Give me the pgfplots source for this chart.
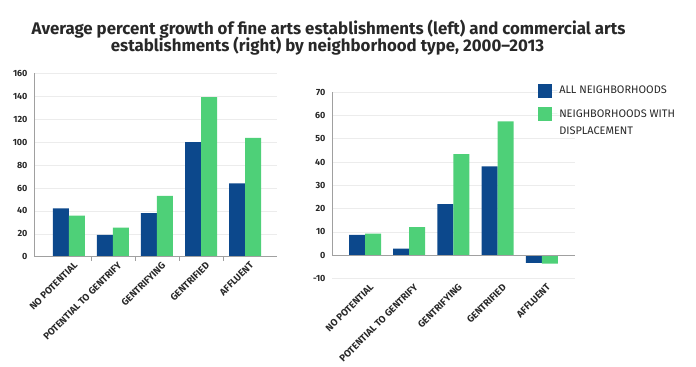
\documentclass[border=0pt]{standalone}
\usepackage{pgfplots}
\pgfplotsset{compat=1.18}
\usepackage{fontspec}
\setmainfont{Fira Sans}
\definecolor{cblue}{RGB}{12,72,140}
\definecolor{cgreen}{RGB}{78,208,120}
\definecolor{gridc}{RGB}{236,236,236}
\definecolor{txt}{RGB}{40,40,40}
\definecolor{axc}{RGB}{160,160,160}

\pgfplotsset{
  mybar/.style={
    scale only axis,
    ybar=0pt, bar width=16bp,
    axis x line*=bottom, axis y line*=left,
    axis line style={draw=none},
    xtick={0,1,2,3,4},
    xticklabels={NO POTENTIAL, POTENTIAL TO GENTRIFY, GENTRIFYING, GENTRIFIED, AFFLUENT},
    xticklabel style={rotate=45, anchor=north east, font=\bfseries\fontsize{9.7}{11}\selectfont, text=txt, inner sep=1pt, xshift=1bp, yshift=-5bp},
    yticklabel style={font=\bfseries\fontsize{9}{10}\selectfont, text=txt, xshift=-3bp},
    /pgf/number format/assume math mode=true,
    major tick length=0pt,
    ymajorgrids, grid style={gridc, line width=0.6pt},
    tick style={draw=none},
    legend image code/.code={\path (0bp,0bp) -- (19bp,0bp); \fill[#1, draw=none] (0bp,-7bp) rectangle (14bp,7bp);},
  }
}

\begin{document}
\begin{tikzpicture}
\path[use as bounding box] (0,0) rectangle (696bp,367bp);

\node[anchor=base, font=\bfseries\fontsize{16.9}{16}\selectfont, text=txt, inner sep=0pt] at (328.5bp,332.5bp)
  {Average percent growth of fine arts establishments (left) and commercial arts};
\node[anchor=base, font=\bfseries\fontsize{16.9}{16}\selectfont, text=txt, inner sep=0pt] at (327.5bp,315.5bp)
  {establishments (right) by neighborhood type, 2000–2013};

\begin{axis}[mybar,
  at={(34bp,110.3bp)}, anchor=south west,
  width=243bp, height=183bp,
  xmin=-0.795, xmax=4.727, ymin=0, ymax=160,
  ytick={0,20,...,160},
  extra x ticks={0.5,1.5,2.5,3.5}, extra x tick labels={},
  extra x tick style={grid=none, major tick length=4bp, tick align=outside, tick style={draw=axc, line width=0.6pt}},
]
\addplot[fill=cblue, draw=none] coordinates {(0,42.3) (1,19.0) (2,38.0) (3,100.1) (4,64.2)};
\addplot[fill=cgreen, draw=none] coordinates {(0,35.9) (1,25.4) (2,53.1) (3,139.6) (4,103.9)};
\draw[axc, line width=0.6pt] (rel axis cs:0,0) -- (rel axis cs:0,1.01);
\draw[axc, line width=0.6pt] (rel axis cs:0,0) -- (rel axis cs:1,0);
\end{axis}

\begin{axis}[mybar,
  at={(332bp,88.4bp)}, anchor=south west,
  width=243bp, height=186.6bp,
  xmin=-0.747, xmax=4.75, ymin=-10, ymax=70,
  ytick={-10,0,...,70},
  legend style={draw=none, fill=none, at={(0.848,1.045)}, anchor=north west, inner sep=0pt,
    font=\fontsize{11}{17}\selectfont, text=txt, cells={anchor=west, align=left}, row sep=9bp},
]
\addplot[fill=cblue, draw=none] coordinates {(0,8.7) (1,2.9) (2,21.9) (3,38.1) (4,-3.3)};
\addlegendentry{ALL NEIGHBORHOODS}
\addplot[fill=cgreen, draw=none, legend image post style={yshift=9bp}] coordinates {(0,9.3) (1,12.1) (2,43.4) (3,57.4) (4,-3.6)};
\addlegendentry{NEIGHBORHOODS WITH\\DISPLACEMENT}
\draw[axc, line width=0.6pt] (axis cs:-0.747,0) -- (axis cs:-0.747,70);
\draw[axc, line width=0.6pt] (axis cs:-0.747,0) -- (axis cs:4.75,0);
\end{axis}
\end{tikzpicture}
\end{document}
